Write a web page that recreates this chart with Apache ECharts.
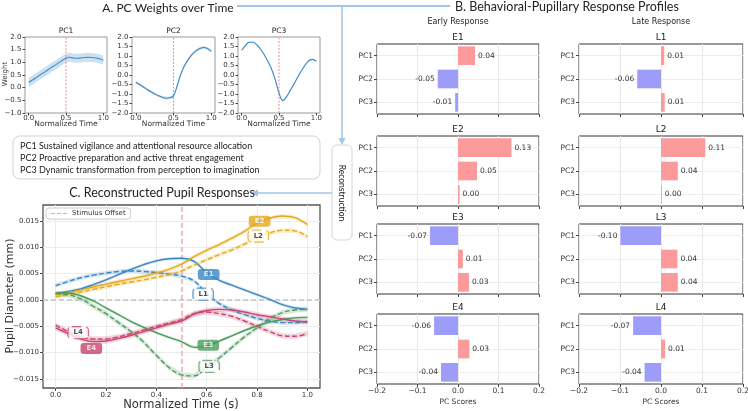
<!DOCTYPE html>
<html><head><meta charset="utf-8">
<script src="https://cdn.jsdelivr.net/npm/echarts@6/dist/echarts.min.js"></script>
<style>html,body{margin:0;padding:0;background:#fff}#c{width:748px;height:411px}</style>
</head><body><div id="c"></div>
<script>
// ---------- DATA ----------
const timeA = [0,0.05,0.1,0.15,0.2,0.25,0.3,0.35,0.4,0.45,0.5,0.55,0.6,0.65,0.7,0.75,0.8,0.85,0.9,0.95,1.0];
const pc1Weight = [0.21,0.30,0.40,0.50,0.59,0.69,0.79,0.88,0.98,1.07,1.16,1.20,1.17,1.16,1.17,1.19,1.20,1.19,1.17,1.14,1.08];
const pc2Weight = [-0.38,-0.50,-0.63,-0.76,-0.88,-0.99,-1.09,-1.17,-1.22,-1.20,-1.10,-0.55,0.08,0.52,0.85,1.10,1.28,1.40,1.45,1.40,1.25];
const pc3Weight = [1.30,1.55,1.72,1.72,1.60,1.38,1.08,0.72,0.32,-0.25,-0.95,-1.35,-1.15,-0.82,-0.48,-0.12,0.22,0.52,0.75,0.82,0.72];
const pcBandHalf = [0.18, 0.07, 0.04];
const pcNames = ['PC1','PC2','PC3'];
const stimOffset = 0.5;

const timeC = [0,0.05,0.1,0.15,0.2,0.25,0.3,0.35,0.4,0.45,0.5,0.55,0.6,0.65,0.7,0.75,0.8,0.85,0.9,0.95,1.0];
const e1 = [0.0012,0.0016,0.0021,0.0029,0.0038,0.0048,0.0058,0.0067,0.0074,0.0078,0.0079,0.0073,0.0052,0.0037,0.0028,0.0019,0.0010,0.0001,-0.0009,-0.0015,-0.0018];
const l1 = [0.0027,0.0035,0.0042,0.0047,0.0051,0.0054,0.0055,0.0054,0.0052,0.0049,0.0045,0.0036,0.0012,-0.0007,-0.0019,-0.0028,-0.0035,-0.0040,-0.0043,-0.0043,-0.0041];
const e2 = [0.0010,0.0014,0.0019,0.0025,0.0030,0.0035,0.0040,0.0045,0.0051,0.0058,0.0068,0.0082,0.0094,0.0105,0.0117,0.0130,0.0146,0.0155,0.0159,0.0156,0.0143];
const l2 = [0.0006,0.0010,0.0015,0.0020,0.0025,0.0030,0.0034,0.0038,0.0043,0.0048,0.0055,0.0066,0.0076,0.0086,0.0095,0.0106,0.0118,0.0127,0.0132,0.0131,0.0120];
const e3 = [0.0013,0.0013,0.0008,-0.0002,-0.0015,-0.0028,-0.0041,-0.0052,-0.0062,-0.0071,-0.0079,-0.0090,-0.0087,-0.0078,-0.0068,-0.0058,-0.0049,-0.0042,-0.0037,-0.0034,-0.0033];
const l3 = [0.0012,0.0010,0.0002,-0.0012,-0.0026,-0.0043,-0.0060,-0.0080,-0.0105,-0.0128,-0.0142,-0.0144,-0.0128,-0.0110,-0.0090,-0.0070,-0.0053,-0.0036,-0.0024,-0.0019,-0.0018];
const e4 = [-0.0053,-0.0064,-0.0074,-0.0079,-0.0078,-0.0073,-0.0067,-0.0060,-0.0053,-0.0046,-0.0040,-0.0027,-0.0020,-0.0018,-0.0019,-0.0023,-0.0028,-0.0032,-0.0036,-0.0040,-0.0042];
const l4 = [-0.0048,-0.0060,-0.0070,-0.0074,-0.0074,-0.0070,-0.0064,-0.0057,-0.0050,-0.0044,-0.0037,-0.0026,-0.0023,-0.0026,-0.0031,-0.0040,-0.0050,-0.0060,-0.0068,-0.0069,-0.0064];
const curveBandHalf = [0.0003,0.0004,0.0004,0.0004,0.0003,0.0005,0.0005,0.0005];
const curveNames = ['E1','L1','E2','L2','E3','L3','E4','L4'];
const labelT = [0.608,0.586,0.81,0.805,0.606,0.61,0.142,0.09];
const labelY = [0.0048,0.0011,0.0149,0.0121,-0.0086,-0.0126,-0.0092,-0.0062];
const tickA_X = [0,0.5,1.0];
const tickC_X = [0,0.2,0.4,0.6,0.8,1.0];
const tickC_Y = [-0.015,-0.01,-0.005,0,0.005,0.01,0.015];

const scoreCats = ['PC1','PC2','PC3'];
const e1Scores = [0.042,-0.05,-0.007];
const e2Scores = [0.132,0.047,0.004];
const e3Scores = [-0.069,0.012,0.027];
const e4Scores = [-0.059,0.028,-0.042];
const l1Scores = [0.008,-0.058,0.009];
const l2Scores = [0.108,0.041,0.002];
const l3Scores = [-0.099,0.04,0.041];
const l4Scores = [-0.068,0.01,-0.04];
const panelNames = [['E1','L1'],['E2','L2'],['E3','L3'],['E4','L4']];

// ---------- BUILD ----------
const minus = s => String(s).replace('-', '\u2212');
const FONT = 'DejaVu Sans';
const grids = [], xAxes = [], yAxes = [], series = [];

function bandSeries(idx, ts, mid, hw, color, op) {
  return {type:'custom', xAxisIndex:idx, yAxisIndex:idx, silent:true, z:1, data:[0],
    renderItem(params, api) {
      const pts = [];
      for (let i = 0; i < ts.length; i++) pts.push(api.coord([ts[i], mid[i] + hw]));
      for (let i = ts.length - 1; i >= 0; i--) pts.push(api.coord([ts[i], mid[i] - hw]));
      return {type:'polygon', shape:{points:pts}, style:{fill:color, opacity:op}};
    }};
}

// Panel A
const aLeft = [25,132,238], aWidth = [82,83,82], aYMin = [-1,-2,-2];
const pcW = [pc1Weight, pc2Weight, pc3Weight];
pcW.forEach((w, i) => {
  grids.push({left:aLeft[i], top:37, width:aWidth[i], height:76, show:true, borderColor:'#999', borderWidth:1, outerBoundsMode:'none'});
  xAxes.push({type:'value', gridIndex:i, min:-0.05, max:1.05,
    axisLine:{show:false, onZero:false}, splitLine:{show:false},
    axisTick:{show:true, customValues:tickA_X, length:2.5, lineStyle:{color:'#444'}},
    axisLabel:{customValues:tickA_X, fontSize:7, color:'#333', margin:1.5, fontFamily:FONT, formatter:v=>v.toFixed(1)}});
  yAxes.push({type:'value', gridIndex:i, min:aYMin[i], max:2, interval:0.5,
    axisLine:{show:false, onZero:false}, splitLine:{show:false},
    axisTick:{show:true, length:2.5, lineStyle:{color:'#444'}},
    axisLabel:{fontSize:7, color:'#333', margin:3.5, fontFamily:FONT, formatter:v=>minus(v.toFixed(1))}});
  series.push(bandSeries(i, timeA, w, pcBandHalf[i], '#a9cdea', 0.6));
  series.push({type:'line', xAxisIndex:i, yAxisIndex:i, z:2, silent:true, data:[[stimOffset, aYMin[i]],[stimOffset, 2]],
    showSymbol:false, symbol:'none', lineStyle:{color:'#f28b8b', width:1, type:[2,1.5]}});
  series.push({type:'line', xAxisIndex:i, yAxisIndex:i, z:3, data:timeA.map((t,k)=>[t,w[k]]),
    showSymbol:false, symbol:'none', smooth:0.4, lineStyle:{color:'#3f88c5', width:1.1}});
});

// Panel C
const C = 3;
grids.push({left:43, top:205, width:277, height:183, show:true, borderColor:'#555', borderWidth:1.3, outerBoundsMode:'none'});
xAxes.push({type:'value', gridIndex:C, min:-0.05, max:1.05, axisLine:{show:false, onZero:false},
  axisTick:{show:true, customValues:tickC_X, length:3, lineStyle:{color:'#444'}},
  axisLabel:{customValues:tickC_X, fontSize:7, color:'#333', margin:4, fontFamily:FONT, formatter:v=>v.toFixed(1)},
  splitLine:{show:true, lineStyle:{color:'#ececec', width:1}}});
yAxes.push({type:'value', gridIndex:C, min:-0.0167, max:0.018, axisLine:{show:false, onZero:false},
  axisTick:{show:true, customValues:tickC_Y, length:3, lineStyle:{color:'#444'}},
  axisLabel:{customValues:tickC_Y, fontSize:7, color:'#333', margin:4, fontFamily:FONT, formatter:v=>minus(v.toFixed(3))},
  splitLine:{show:true, lineStyle:{color:'#ececec', width:1}}});

series.push({type:'line', name:'Stimulus Offset', xAxisIndex:C, yAxisIndex:C, data:[], showSymbol:false, symbol:'none',
  lineStyle:{color:'#f4a3a3', type:[4,2], width:1.5}, itemStyle:{color:'#f4a3a3'},
  markLine:{silent:true, z:2, symbol:'none', label:{show:false}, lineStyle:{color:'#f6a5a5', type:[5,3], width:1.5},
    data:[{xAxis:stimOffset}, {yAxis:0, lineStyle:{color:'#c4c4c4', type:[5,3], width:1.5}}]}, z:2});

const cData = [e1,l1,e2,l2,e3,l3,e4,l4];
const cColors = ['#3b87c2','#3b87c2','#e6a817','#e6a817','#4b9c5c','#4b9c5c','#c9456d','#c9456d'];
cData.forEach((d, i) => {
  series.push(bandSeries(C, timeC, d, curveBandHalf[i], cColors[i], 0.22));
});
cData.forEach((d, i) => {
  const dashed = i % 2 === 1;
  series.push({type:'line', name:curveNames[i], xAxisIndex:C, yAxisIndex:C, z:3, data:timeC.map((t,k)=>[t,d[k]]),
    showSymbol:false, symbol:'none', smooth:0.4, lineStyle:{color:cColors[i], width:1.4, type: dashed ? [5,2.5] : 'solid'}});
});
curveNames.forEach((n, i) => {
  const dashed = i % 2 === 1;
  series.push({type:'scatter', xAxisIndex:C, yAxisIndex:C, z:10, symbolSize:1, itemStyle:{color:'rgba(0,0,0,0)'},
    data:[{name:n, value:[labelT[i], labelY[i]]}],
    label:{show:true, position:'inside', formatter:'{b}', fontSize:7, fontWeight:'bold', fontFamily:FONT,
      color: dashed ? '#222' : '#fff', backgroundColor: dashed ? '#fff' : cColors[i],
      borderColor: cColors[i], borderWidth: dashed ? 1.2 : 0, borderType:'dashed',
      borderRadius:3, padding: dashed ? [2,5] : [2,6]}});
});

// Panel B
const bTops = [44,136,224,314], bLefts = [377,579], bWidths = [162,164];
const scoreArr = [[e1Scores,l1Scores],[e2Scores,l2Scores],[e3Scores,l3Scores],[e4Scores,l4Scores]];
let gi = 4;
const graphicTitles = [];
for (let r = 0; r < 4; r++) {
  for (let c = 0; c < 2; c++) {
    grids.push({left:bLefts[c], top:bTops[r], width:bWidths[c], height:70, show:true, borderColor:'#333', borderWidth:1, outerBoundsMode:'none'});
    xAxes.push({type:'value', gridIndex:gi, min:-0.2, max:0.2, interval:0.1, axisLine:{show:false, onZero:false},
      axisTick:{show:true, length:3, lineStyle:{color:'#444'}},
      axisLabel:{show:r===3, fontSize:7.5, color:'#333', margin:3, fontFamily:FONT, formatter:v=>minus(v.toFixed(1))},
      splitLine:{show:true, lineStyle:{color:'#e8e8e8'}}});
    yAxes.push({type:'category', gridIndex:gi, data:scoreCats, inverse:true, axisLine:{show:false, onZero:false},
      axisTick:{show:true, alignWithLabel:true, length:3, lineStyle:{color:'#444'}},
      axisLabel:{fontSize:7.5, color:'#333', margin:4, fontFamily:FONT}, splitLine:{show:false}});
    series.push({type:'line', xAxisIndex:gi, yAxisIndex:gi, data:[], z:0, silent:true,
      markLine:{silent:true, z:0, symbol:'none', label:{show:false}, lineStyle:{color:'#ececec', type:'solid', width:1},
        data:[{yAxis:0},{yAxis:1},{yAxis:2}]}});
    const vals = scoreArr[r][c];
    series.push({type:'bar', xAxisIndex:gi, yAxisIndex:gi, barWidth:'80%', z:3,
      data: vals.map(v => ({value:v, itemStyle:{color: v >= 0 ? '#fc9a9b' : '#9d9cf8'},
        label:{show:true, position: v >= 0 ? 'right' : 'left', distance:3}})),
      label:{fontSize:7.5, color:'#333', fontFamily:FONT, formatter:p=>p.value.toFixed(2)}});
    graphicTitles.push({type:'text', x:bLefts[c]+bWidths[c]/2, y:bTops[r]-6,
      style:{text:panelNames[r][c], fill:'#222', font:'9px "DejaVu Sans"', align:'center', verticalAlign:'middle'}});
    if (r === 3) graphicTitles.push({type:'text', x:bLefts[c]+bWidths[c]/2, y:402,
      style:{text:'PC Scores', fill:'#333', font:'7.5px "DejaVu Sans"', align:'center', verticalAlign:'middle'}});
    gi++;
  }
}

const SANS = 'Lato';
const arrow = '#9fc6ea';
const dv = s => s + 'px "DejaVu Sans"';
const graphic = [
  {type:'text', x:168, y:8, style:{text:'A. PC Weights over Time', fill:'#222', font:'12px '+SANS, align:'center', verticalAlign:'middle'}},
  {type:'line', shape:{x1:237,y1:6,x2:450,y2:6}, style:{stroke:arrow, lineWidth:2}},
  {type:'text', x:455, y:7, style:{text:'B. Behavioral-Pupillary Response Profiles', fill:'#222', font:'12.5px '+SANS, align:'left', verticalAlign:'middle'}},
  {type:'line', shape:{x1:342,y1:6,x2:342,y2:140}, style:{stroke:arrow, lineWidth:1.5}},
  {type:'polygon', shape:{points:[[338.5,138],[345.5,138],[342,145]]}, style:{fill:arrow}},
  {type:'rect', shape:{x:332,y:145,width:20,height:95,r:5}, style:{fill:'#fff', stroke:'#d6d6d6', lineWidth:1}},
  {type:'text', x:342, y:193, rotation:-Math.PI/2, style:{text:'Reconstruction', fill:'#222', font:'8.5px '+SANS, align:'center', verticalAlign:'middle'}},
  {type:'line', shape:{x1:332,y1:193,x2:258,y2:193}, style:{stroke:arrow, lineWidth:1.5}},
  {type:'polygon', shape:{points:[[258,189.5],[258,196.5],[251,193]]}, style:{fill:arrow}},
  {type:'rect', shape:{x:13,y:136,width:307,height:43,r:7}, style:{fill:'#fff', stroke:'#cfcfcf', lineWidth:1}},
  {type:'text', x:20, y:146, style:{text:'PC1 Sustained vigilance and attentional resource allocation', fill:'#222', font:'9px '+SANS, align:'left', verticalAlign:'middle'}},
  {type:'text', x:20, y:158, style:{text:'PC2 Proactive preparation and active threat engagement', fill:'#222', font:'9px '+SANS, align:'left', verticalAlign:'middle'}},
  {type:'text', x:20, y:170, style:{text:'PC3 Dynamic transformation from perception to imagination', fill:'#222', font:'9px '+SANS, align:'left', verticalAlign:'middle'}},
  {type:'text', x:162, y:193, style:{text:'C. Reconstructed Pupil Responses', fill:'#222', font:'12.5px '+SANS, align:'center', verticalAlign:'middle'}},
  {type:'text', x:458, y:22, style:{text:'Early Response', fill:'#222', font:dv(8), align:'center', verticalAlign:'middle'}},
  {type:'text', x:661, y:22, style:{text:'Late Response', fill:'#222', font:dv(8), align:'center', verticalAlign:'middle'}},
  {type:'text', x:5, y:74, rotation:Math.PI/2, style:{text:'Weight', fill:'#333', font:dv(7), align:'center', verticalAlign:'middle'}},
  {type:'text', x:10, y:296, rotation:Math.PI/2, style:{text:'Pupil Diameter (mm)', fill:'#333', font:dv(11), align:'center', verticalAlign:'middle'}},
  {type:'text', x:181, y:405, style:{text:'Normalized Time (s)', fill:'#333', font:dv(11.5), align:'center', verticalAlign:'middle'}}
].concat(pcNames.map((n,i)=>({type:'text', x:aLeft[i]+aWidth[i]/2, y:31, style:{text:n, fill:'#222', font:dv(7.5), align:'center', verticalAlign:'middle'}})))
 .concat(pcNames.map((n,i)=>({type:'text', x:aLeft[i]+aWidth[i]/2, y:124.5, style:{text:'Normalized Time', fill:'#333', font:dv(7.5), align:'center', verticalAlign:'middle'}})))
 .concat(graphicTitles);

const chart = echarts.init(document.getElementById('c'), null, {renderer:'canvas'});
chart.setOption({
  animation:false,
  backgroundColor:'#fff',
  grid:grids, xAxis:xAxes, yAxis:yAxes, series:series,
  legend:{data:['Stimulus Offset'], left:46, top:208, orient:'vertical', itemWidth:16, itemHeight:8, itemGap:2,
    icon:'path://M0,4 L4,4 L4,5 L0,5 Z M6,4 L10,4 L10,5 L6,5 Z M12,4 L16,4 L16,5 L12,5 Z',
    backgroundColor:'rgba(255,255,255,0.95)', borderColor:'#ccc', borderWidth:1, borderRadius:3, padding:[2,5],
    textStyle:{fontSize:7, color:'#333', fontFamily:FONT}},
  graphic:graphic
});
</script></body></html>
